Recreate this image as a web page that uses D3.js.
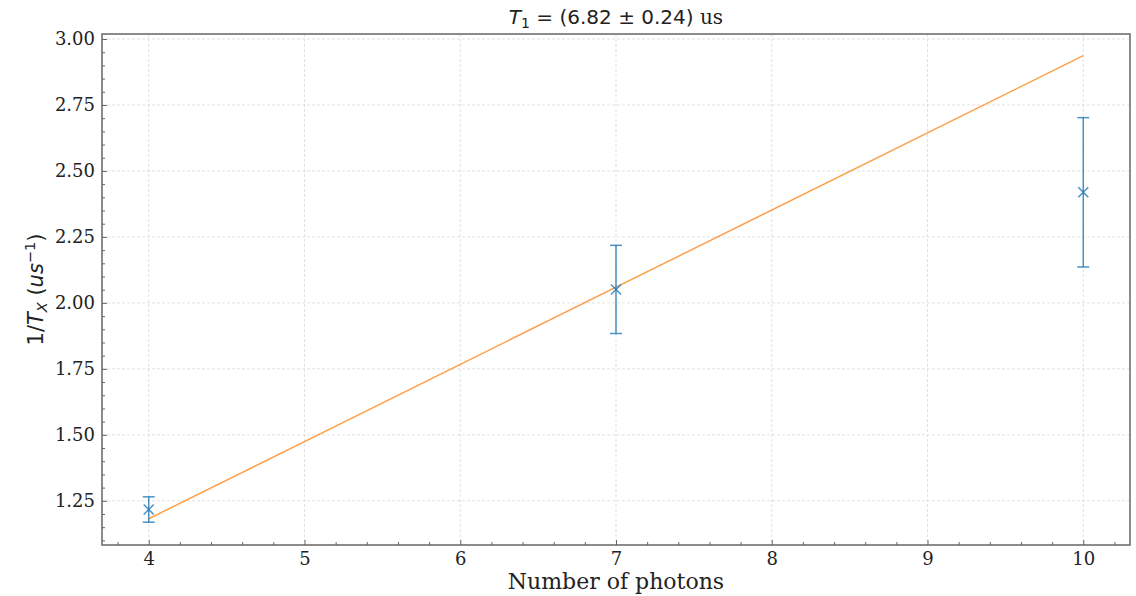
<!DOCTYPE html>
<html><head><meta charset="utf-8">
<script src="https://cdn.jsdelivr.net/npm/d3@7"></script>
<style>body{margin:0;background:#fff}</style>
</head><body>
<svg id="c" width="1136" height="596"></svg>
<script>
const photons = [4, 7, 10];
const rates = [1.217, 2.051, 2.419];
const errors = [0.048, 0.167, 0.283];
const fitX = [4, 10];
const fitY = [1.182, 2.937];
const xTicks = [4, 5, 6, 7, 8, 9, 10];
const yTicks = [1.25, 1.50, 1.75, 2.00, 2.25, 2.50, 2.75, 3.00];

const svg = d3.select("#c");
const L = 102, R = 1130, T = 34, B = 545;
const x = d3.scaleLinear().domain([3.7, 10.3]).range([L, R]);
const y = d3.scaleLinear().domain([1.0825, 3.019]).range([B, T]);
const spine = "#666";
const serif = "DejaVu Serif";
const sans = "DejaVu Sans";

// grid
const g = svg.append("g");
g.selectAll(".gx").data(xTicks).join("line")
  .attr("x1", d => x(d)).attr("x2", d => x(d)).attr("y1", T).attr("y2", B)
  .attr("stroke", "#d9d9d9").attr("stroke-width", 0.8).attr("stroke-dasharray", "3,2");
g.selectAll(".gy").data(yTicks).join("line")
  .attr("y1", d => y(d)).attr("y2", d => y(d)).attr("x1", L).attr("x2", R)
  .attr("stroke", "#d9d9d9").attr("stroke-width", 0.8).attr("stroke-dasharray", "3,2");

// axes with inward ticks
const xMinor = d3.range(3.8, 10.3, 0.2).map(v => +v.toFixed(2)).filter(v => !xTicks.includes(v));
const yMinor = d3.range(1.10, 3.02, 0.05).map(v => +v.toFixed(2)).filter(v => !yTicks.includes(v));

const xAxis = svg.append("g").attr("transform", `translate(0,${B})`)
  .call(d3.axisBottom(x).tickValues(xTicks).tickFormat(d3.format("d")).tickSizeInner(-5).tickSizeOuter(0).tickPadding(7));
const xAxisMinor = svg.append("g").attr("transform", `translate(0,${B})`)
  .call(d3.axisBottom(x).tickValues(xMinor).tickFormat("").tickSizeInner(-3).tickSizeOuter(0));
const yAxis = svg.append("g").attr("transform", `translate(${L},0)`)
  .call(d3.axisLeft(y).tickValues(yTicks).tickFormat(d3.format(".2f")).tickSizeInner(-5).tickSizeOuter(0).tickPadding(7));
const yAxisMinor = svg.append("g").attr("transform", `translate(${L},0)`)
  .call(d3.axisLeft(y).tickValues(yMinor).tickFormat("").tickSizeInner(-3).tickSizeOuter(0));
[xAxis, xAxisMinor, yAxis, yAxisMinor].forEach(a => {
  a.select(".domain").remove();
  a.selectAll("line").attr("stroke", spine).attr("stroke-width", 1);
  a.selectAll("text").attr("font-family", serif).attr("font-size", 18).attr("fill", "#222");
});

// frame
svg.append("rect").attr("x", L).attr("y", T).attr("width", R - L).attr("height", B - T)
  .attr("fill", "none").attr("stroke", spine).attr("stroke-width", 1.5);

// fit line
svg.append("path").datum(fitX.map((v, i) => [v, fitY[i]]))
  .attr("d", d3.line().x(d => x(d[0])).y(d => y(d[1])))
  .attr("stroke", "#ff7f0e").attr("stroke-opacity", 0.75).attr("stroke-width", 1.5).attr("fill", "none");

// error bars
const data = photons.map((p, i) => ({p, v: rates[i], e: errors[i]}));
const eb = svg.append("g").attr("stroke", "#1f77b4").attr("stroke-opacity", 0.8).attr("stroke-width", 1.5).attr("fill", "none");
eb.selectAll(".v").data(data).join("line")
  .attr("x1", d => x(d.p)).attr("x2", d => x(d.p)).attr("y1", d => y(d.v - d.e)).attr("y2", d => y(d.v + d.e));
eb.selectAll(".ct").data(data).join("line")
  .attr("x1", d => x(d.p) - 6).attr("x2", d => x(d.p) + 6).attr("y1", d => y(d.v + d.e)).attr("y2", d => y(d.v + d.e));
eb.selectAll(".cb").data(data).join("line")
  .attr("x1", d => x(d.p) - 6).attr("x2", d => x(d.p) + 6).attr("y1", d => y(d.v - d.e)).attr("y2", d => y(d.v - d.e));
eb.selectAll(".m").data(data).join("path")
  .attr("d", d => { const cx = x(d.p), cy = y(d.v), s = 5; return `M${cx-s},${cy-s}L${cx+s},${cy+s}M${cx-s},${cy+s}L${cx+s},${cy-s}`; });

// title
const title = svg.append("text").attr("x", (L + R) / 2).attr("y", 24).attr("text-anchor", "middle")
  .attr("font-family", sans).attr("font-size", 20).attr("fill", "#222");
title.append("tspan").attr("font-style", "italic").text("T");
title.append("tspan").attr("font-size", 14).attr("dy", 4).text("1");
title.append("tspan").attr("dy", -4).text(" = (6.82 ± 0.24) ");
title.append("tspan").attr("font-family", serif).text("us");

// x label
svg.append("text").attr("x", (L + R) / 2).attr("y", 589).attr("text-anchor", "middle")
  .attr("font-family", serif).attr("font-size", 22).attr("fill", "#222").text("Number of photons");

// y label
const yl = svg.append("text").attr("transform", `translate(43,${(T + B) / 2}) rotate(-90)`).attr("text-anchor", "middle")
  .attr("font-family", sans).attr("font-size", 21).attr("fill", "#222");
yl.append("tspan").text("1/");
yl.append("tspan").attr("font-style", "italic").text("T");
yl.append("tspan").attr("font-style", "italic").attr("font-size", 14.5).attr("dy", 4).text("X");
yl.append("tspan").attr("dy", -4).text(" (");
yl.append("tspan").attr("font-style", "italic").text("us");
yl.append("tspan").attr("font-size", 14.5).attr("dy", -8).text("−1");
yl.append("tspan").attr("dy", 8).text(")");
</script>
</body></html>
